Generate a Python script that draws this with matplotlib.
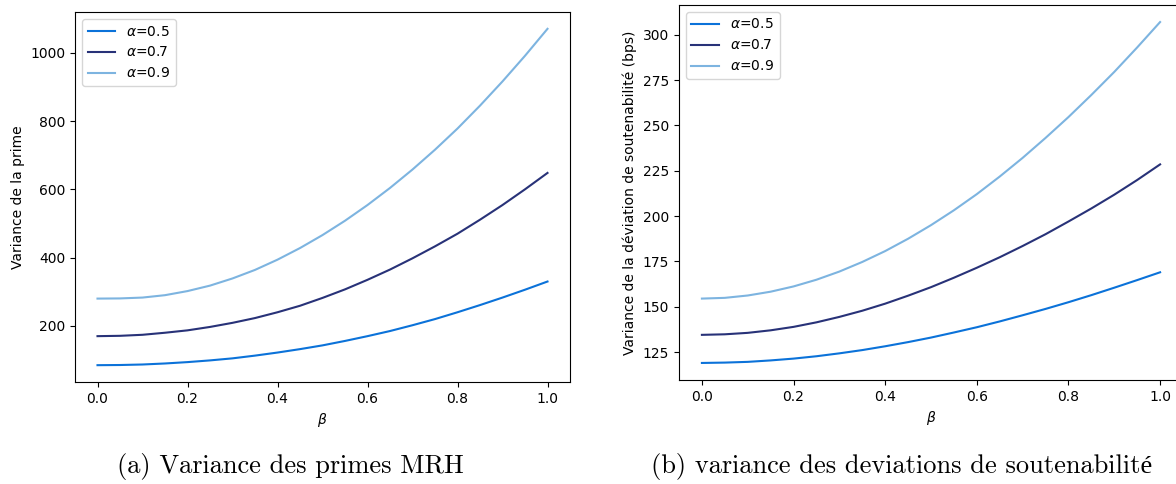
import numpy as np
import matplotlib
matplotlib.use("Agg")
import matplotlib.pyplot as plt

# beta grid and values
beta = [0.0, 0.05, 0.1, 0.15, 0.2, 0.25, 0.3, 0.35, 0.4, 0.45, 0.5,
        0.55, 0.6, 0.65, 0.7, 0.75, 0.8, 0.85, 0.9, 0.95, 1.0]

prime_a05 = [85, 85.5, 87, 90, 94, 99, 105, 113, 122, 132, 143,
             156, 170, 185, 202, 220, 240, 261, 283, 306, 330]
prime_a07 = [170, 171, 174, 180, 187, 197, 209, 223, 240, 259, 282,
             307, 335, 365, 398, 433, 470, 511, 554, 600, 648]
prime_a09 = [280, 280.5, 283, 290, 302, 318, 339, 364, 394, 428, 466,
             508, 554, 604, 658, 716, 778, 845, 916, 991, 1070]

dev_a05 = [119, 119.2, 119.6, 120.4, 121.4, 122.7, 124.3, 126.1, 128.2, 130.5, 133,
           135.8, 138.7, 141.9, 145.3, 148.8, 152.5, 156.4, 160.5, 164.7, 169]
dev_a07 = [134.5, 134.8, 135.6, 137, 138.9, 141.4, 144.4, 147.8, 151.7, 156.1, 160.8,
           166, 171.5, 177.3, 183.5, 190, 197, 204.2, 211.8, 219.9, 228.5]
dev_a09 = [154.5, 154.9, 156.2, 158.3, 161.2, 164.9, 169.4, 174.7, 180.7, 187.5, 195,
           203.2, 212.1, 221.8, 232.1, 243.1, 254.6, 266.8, 279.5, 293, 307]

labels = [r"$\alpha$=0.5", r"$\alpha$=0.7", r"$\alpha$=0.9"]
colors = ["#0b72d9", "#283278", "#7db4e0"]

captions = ["(a) Variance des primes MRH",
            "(b) variance des deviations de soutenabilité"]

fig = plt.figure(figsize=(11.76, 4.84), dpi=100)

ax1 = fig.add_axes([75/1176, 102/484, 495/1176, 370/484])
ax2 = fig.add_axes([679/1176, 104/484, 504/1176, 375/484])

for ys, lab, c in zip([prime_a05, prime_a07, prime_a09], labels, colors):
    ax1.plot(beta, ys, color=c, linewidth=1.5, label=lab)
ax1.set_xlabel(r"$\beta$")
ax1.set_ylabel("Variance de la prime")
ax1.set_yticks([200, 400, 600, 800, 1000])
ax1.legend(loc="upper left")

for ys, lab, c in zip([dev_a05, dev_a07, dev_a09], labels, colors):
    ax2.plot(beta, ys, color=c, linewidth=1.5, label=lab)
ax2.set_xlabel(r"$\beta$")
ax2.set_ylabel("Variance de la déviation de soutenabilité (bps)")
ax2.legend(loc="upper left")

cap_font = ["cmr10", "Liberation Serif"]
fig.text(290/1176, 1 - 467/484, captions[0], ha="center", va="center",
         fontsize=19, family=cap_font)
fig.text(902/1176, 1 - 467/484, captions[1], ha="center", va="center",
         fontsize=19, family=cap_font)

fig.savefig("out.png", dpi=100)
